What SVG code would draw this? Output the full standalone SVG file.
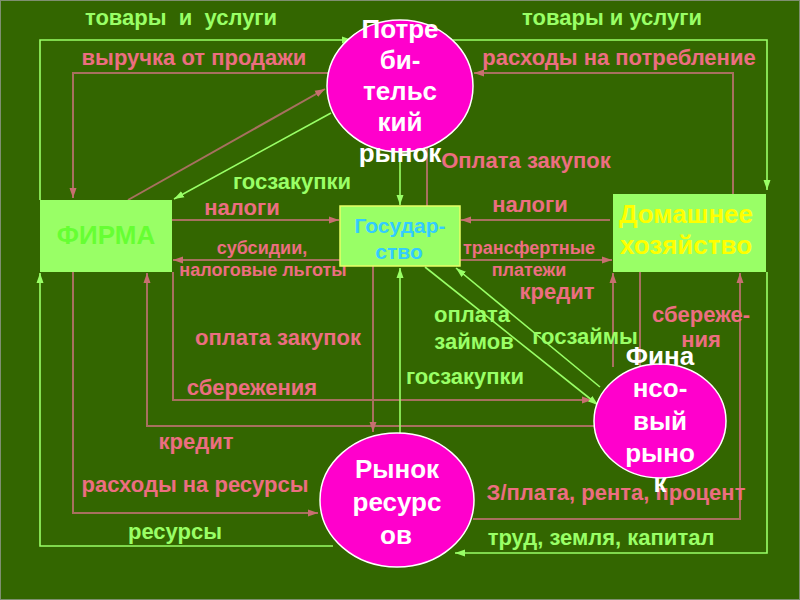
<svg xmlns="http://www.w3.org/2000/svg" width="800" height="600" viewBox="0 0 800 600">
<defs>
<style>
.t{font-family:"Liberation Sans",Arial,sans-serif;font-weight:bold}
.pk{fill:#ec6e80;font-size:22px}
.gr{fill:#99ff66;font-size:22px}
.sm{font-size:18px}
.ct{fill:#ffffff;font-size:26px;text-anchor:middle}
.bl{fill:none;stroke:#a8705f;stroke-width:2}
.gl{fill:none;stroke:#99ff66;stroke-width:1.6}
.circ{fill:#ff00cc;stroke:#ffffff;stroke-width:1.5}
.box{fill:#99ff66}
</style>
<marker id="ab" markerUnits="userSpaceOnUse" markerWidth="10" markerHeight="10" viewBox="0 0 10 10" refX="10" refY="5" orient="auto">
<path d="M0,1.5 L10,5 L0,8.5 Z" fill="#c86f70"/>
</marker>
<marker id="ag" markerUnits="userSpaceOnUse" markerWidth="10" markerHeight="10" viewBox="0 0 10 10" refX="10" refY="5" orient="auto">
<path d="M0,1.5 L10,5 L0,8.5 Z" fill="#99ff66"/>
</marker>
</defs>
<rect x="0" y="0" width="800" height="600" fill="#336600"/>
<rect x="0.5" y="0.5" width="799" height="599" fill="none" stroke="#7f8f70" stroke-width="1"/>

<g id="connectors">
<path class="bl" d="M328,73 H73 V198" marker-end="url(#ab)"/>
<path class="bl" d="M733,194 V73 H474" marker-end="url(#ab)"/>
<path class="bl" d="M128,200 L325,89" stroke="#d2707a" marker-end="url(#ab)"/>
<path class="bl" d="M427,206 V148"/>
<path class="bl" d="M172,220 H339" marker-end="url(#ab)"/>
<path class="bl" d="M340,260 H173" marker-end="url(#ab)"/>
<path class="bl" d="M610,220 H461" marker-end="url(#ab)"/>
<path class="bl" d="M460,260 H612" marker-end="url(#ab)"/>
<path class="bl" d="M613,367 V273" marker-end="url(#ab)"/>
<path class="bl" d="M640,272 V366"/>
<path class="bl" d="M473,519 H740 V273" marker-end="url(#ab)"/>
<path class="bl" d="M73,272 V513 H318" marker-end="url(#ab)"/>
<path class="bl" d="M594,426 H147 V273" marker-end="url(#ab)"/>
<path class="bl" d="M173,272 V400 H592" marker-end="url(#ab)"/>
<path class="bl" d="M373,266 V432" marker-end="url(#ab)"/>

<path class="gl" d="M40,200 V40 H352" marker-end="url(#ag)"/>
<path class="gl" d="M453,40 H767 V190" marker-end="url(#ag)"/>
<path class="gl" d="M331,113 L174,199" marker-end="url(#ag)"/>
<path class="gl" d="M400,152 V205" marker-end="url(#ag)"/>
<path class="gl" d="M767,272 V553 H455" marker-end="url(#ag)"/>
<path class="gl" d="M333,546 H40 V273" marker-end="url(#ag)"/>
<path class="gl" d="M400,440 V268" marker-end="url(#ag)"/>
<path class="gl" d="M425,267 L598,405" marker-end="url(#ag)"/>
<path class="gl" d="M600,387 L456,268" marker-end="url(#ag)"/>
</g>

<g id="labels">
<text class="t gr" x="181" y="25" text-anchor="middle" style="white-space:pre">товары  и  услуги</text>
<text class="t pk" x="194" y="65" text-anchor="middle">выручка от продажи</text>
<text class="t gr" x="612" y="25" text-anchor="middle">товары и услуги</text>
<text class="t pk" x="619" y="65" text-anchor="middle">расходы на потребление</text>
<text class="t gr" x="292" y="189" text-anchor="middle">госзакупки</text>
<text class="t pk" x="526" y="168" text-anchor="middle">Оплата закупок</text>
<text class="t pk" x="242" y="215" text-anchor="middle">налоги</text>
<text class="t pk" x="530" y="212" text-anchor="middle">налоги</text>
<text class="t pk sm" x="262" y="254" text-anchor="middle">субсидии,</text>
<text class="t pk sm" x="263" y="276" text-anchor="middle">налоговые льготы</text>
<text class="t pk sm" x="529" y="254" text-anchor="middle">трансфертные</text>
<text class="t pk sm" x="529" y="276" text-anchor="middle">платежи</text>
<text class="t pk" x="557" y="299" text-anchor="middle">кредит</text>
<text class="t gr" x="472" y="322" text-anchor="middle">оплата</text>
<text class="t gr" x="474" y="349" text-anchor="middle">займов</text>
<text class="t gr" x="585" y="344" text-anchor="middle">госзаймы</text>
<text class="t pk" x="701" y="322" text-anchor="middle">сбереже-</text>
<text class="t pk" x="701" y="347" text-anchor="middle">ния</text>
<text class="t pk" x="278" y="345" text-anchor="middle">оплата закупок</text>
<text class="t gr" x="465" y="384" text-anchor="middle">госзакупки</text>
<text class="t pk" x="252" y="395" text-anchor="middle">сбережения</text>
<text class="t pk" x="196" y="449" text-anchor="middle">кредит</text>
<text class="t pk" x="195" y="492" text-anchor="middle">расходы на ресурсы</text>
<text class="t gr" x="175" y="539" text-anchor="middle">ресурсы</text>
<text class="t pk" x="616" y="500" text-anchor="middle">З/плата, рента, процент</text>
<text class="t gr" x="601" y="545" text-anchor="middle">труд, земля, капитал</text>
</g>

<g id="firma">
<rect class="box" x="40" y="200" width="132" height="72"/>
<text class="t" x="106" y="244" text-anchor="middle" font-size="26" fill="#66ff33">ФИРМА</text>
</g>

<g id="gosudarstvo">
<rect class="box" x="340" y="206" width="120" height="60" stroke="#e8ff66" stroke-width="1.5"/>
<text class="t" x="400" y="233" text-anchor="middle" font-size="21" fill="#33ccff">Государ-</text>
<text class="t" x="399" y="259" text-anchor="middle" font-size="21" fill="#33ccff">ство</text>
</g>

<g id="domashnee">
<rect class="box" x="613" y="194" width="153" height="78"/>
<text class="t" x="686" y="223" text-anchor="middle" font-size="26" fill="#ffff00">Домашнее</text>
<text class="t" x="686" y="254" text-anchor="middle" font-size="26" fill="#ffff00">хозяйство</text>
</g>

<g id="potreb">
<ellipse class="circ" cx="400" cy="86" rx="73" ry="66"/>
<text class="t ct" x="400" y="38">Потре</text>
<text class="t ct" x="400" y="69">би-</text>
<text class="t ct" x="400" y="100">тельс</text>
<text class="t ct" x="400" y="131">кий</text>
<text class="t ct" x="400" y="162">рынок</text>
</g>

<g id="rynok-resursov">
<ellipse class="circ" cx="397" cy="500" rx="77" ry="67"/>
<text class="t ct" x="397" y="478">Рынок</text>
<text class="t ct" x="397" y="511">ресурс</text>
<text class="t ct" x="396" y="544">ов</text>
</g>

<g id="fin-rynok">
<ellipse class="circ" cx="660" cy="421" rx="66" ry="57"/>
<text class="t ct" x="660" y="365">Фина</text>
<text class="t ct" x="660" y="397">нсо-</text>
<text class="t ct" x="660" y="430">вый</text>
<text class="t ct" x="660" y="462">рыно</text>
<text class="t ct" x="660" y="492">к</text>
</g>
</svg>
